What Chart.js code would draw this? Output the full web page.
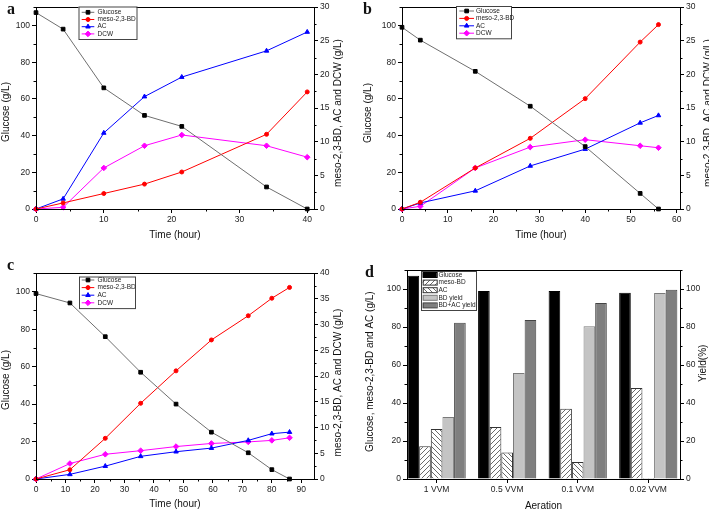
<!DOCTYPE html>
<html lang="en">
<head>
<meta charset="UTF-8">
<title>meso-2,3-BD fermentation</title>
<script src="https://cdn.jsdelivr.net/npm/chart.js"></script>
<style>
  html, body { margin: 0; padding: 0; background: #fff; overflow: hidden; }
  body { width: 709px; height: 510px; position: relative; }
  canvas { position: absolute; }
  .tag { position: absolute; font: bold 16px "Liberation Serif", "DejaVu Serif", serif; line-height: 16px; color: #111; }
</style>
</head>
<body>
<canvas id="chartA" width="355" height="250" style="left:0;top:0"></canvas>
<canvas id="chartB" width="354" height="250" style="left:355px;top:0"></canvas>
<canvas id="chartC" width="355" height="250" style="left:0;top:260px"></canvas>
<canvas id="chartD" width="354" height="252" style="left:355px;top:260px"></canvas>
<div class="tag" style="left:7px;top:1px">a</div>
<div class="tag" style="left:363px;top:1px">b</div>
<div class="tag" style="left:7px;top:257px">c</div>
<div class="tag" style="left:365px;top:264px">d</div>

<script>
  const seriesNames = ['Glucose', 'meso-2,3-BD', 'AC', 'DCW'];

  // a - 1 vvm
  const timeA = [0, 4, 10, 16, 21.5, 34, 40];
  const glucoseA = [107, 98, 66, 51, 45, 12, 0];
  const mesoA = [0, 0.9, 2.3, 3.7, 5.5, 11.1, 17.4];
  const acA = [0, 1.5, 11.3, 16.7, 19.6, 23.5, 26.3];
  const dcwA = [0, 0.25, 6.1, 9.4, 11.0, 9.4, 7.7];

  // b - 0.5 vvm
  const timeB = [0, 4, 16, 28, 40, 52, 56];
  const glucoseB = [99, 92, 75, 56, 34, 8.5, 0];
  const mesoB = [0, 1.0, 6.1, 10.5, 16.4, 24.8, 27.4];
  const acB = [0, 0.9, 2.7, 6.4, 8.9, 12.8, 13.9];
  const dcwB = [0, 0.4, 6.1, 9.2, 10.3, 9.4, 9.1];

  // c - 0.1 vvm
  const timeC = [0, 11.5, 23.5, 35.5, 47.5, 59.5, 72, 80, 86];
  const glucoseC = [99, 94, 76, 57, 40, 25, 14, 5, 0];
  const mesoC = [0, 1.8, 7.9, 14.7, 21.0, 27.0, 31.7, 35.1, 37.2];
  const acC = [0, 0.9, 2.5, 4.4, 5.3, 6.0, 7.5, 8.8, 9.1];
  const dcwC = [0, 3.0, 4.8, 5.5, 6.3, 6.9, 7.2, 7.5, 8.0];

  // d - summary
  const aeration = ['1 VVM', '0.5 VVM', '0.1 VVM', '0.02 VVM'];
  const barNames = ['Glucose', 'meso-BD', 'AC', 'BD yield', 'BD+AC yield'];
  const glucoseD = [107, 99, 99, 98];
  const mesoD = [17.3, 27.4, 37, 47.9];
  const acD = [26.3, 13.9, 8.9, 0.5];
  const bdYield = [32.6, 55.8, 80.4, 97.9];
  const bdAcYield = [82.3, 83.7, 92.6, 99.6];

  const FONT = '"Liberation Sans", Arial, sans-serif';
  Chart.defaults.font.family = FONT;
  Chart.defaults.color = '#222';
  Chart.defaults.animation = false;
  Chart.defaults.plugins.legend.display = false;
  Chart.defaults.plugins.tooltip.enabled = false;

  const frame = {
    id: 'frame',
    afterDraw(chart) {
      const { ctx, chartArea: a } = chart;
      ctx.save();
      ctx.strokeStyle = '#000';
      ctx.lineWidth = 1;
      ctx.strokeRect(Math.round(a.left) + 0.5, Math.round(a.top) + 0.5,
        Math.round(a.right - a.left), Math.round(a.bottom - a.top));
      ctx.restore();
    }
  };

  const minorTicks = {
    id: 'minorTicks',
    afterDraw(chart, args, opts) {
      const steps = opts.steps || {};
      const { ctx, chartArea: a } = chart;
      ctx.save();
      ctx.strokeStyle = '#000';
      ctx.lineWidth = 1;
      ctx.beginPath();
      Object.keys(steps).forEach(id => {
        const s = chart.scales[id];
        const step = steps[id];
        const majors = s.ticks.map(t => t.value);
        for (let k = 0; k * step <= s.max + 1e-9; k++) {
          const v = k * step;
          if (majors.some(m => Math.abs(m - v) < 1e-6)) continue;
          const p = Math.round(s.getPixelForValue(v)) + 0.5;
          if (s.position === 'bottom') { ctx.moveTo(p, a.bottom); ctx.lineTo(p, a.bottom + 2.5); }
          else if (s.position === 'left') { ctx.moveTo(a.left, p); ctx.lineTo(a.left - 2.5, p); }
          else { ctx.moveTo(a.right, p); ctx.lineTo(a.right + 2.5, p); }
        }
      });
      ctx.stroke();
      ctx.restore();
    }
  };

  // vertical axis titles, both reading bottom to top
  const sideTitles = {
    id: 'sideTitles',
    afterDraw(chart, args, opts) {
      const items = opts.items || [];
      const ctx = chart.ctx;
      ctx.save();
      ctx.font = '10px ' + FONT;
      ctx.fillStyle = '#111';
      ctx.textAlign = 'center';
      ctx.textBaseline = 'middle';
      for (let i = 0; i < items.length; i++) {
        const t = items[i];
        ctx.save();
        ctx.translate(t.x, t.y);
        ctx.rotate(-Math.PI / 2);
        ctx.fillText(t.text, 0, 0);
        ctx.restore();
      }
      ctx.restore();
    }
  };

  const boxLegend = {
    id: 'boxLegend',
    afterDraw(chart, args, o) {
      if (!o.box) return;
      const ctx = chart.ctx;
      const b = o.box;
      ctx.save();
      ctx.fillStyle = '#fff';
      ctx.fillRect(b[0], b[1], b[2], b[3]);
      ctx.strokeStyle = '#444';
      ctx.lineWidth = 1;
      ctx.strokeRect(b[0] + 0.5, b[1] + 0.5, b[2], b[3]);
      ctx.font = '6.5px ' + FONT;
      ctx.textBaseline = 'middle';
      ctx.textAlign = 'left';
      chart.data.datasets.forEach((ds, i) => {
        const y = o.rowY + i * o.rowStep;
        if (o.bars) {
          ctx.fillStyle = ds.backgroundColor;
          ctx.fillRect(o.x0, y - 2.5, o.x1 - o.x0, 5);
          ctx.strokeStyle = ds.borderColor;
          ctx.strokeRect(o.x0 + 0.5, y - 2.5, o.x1 - o.x0, 5);
        } else {
          ctx.strokeStyle = ds.borderColor;
          ctx.beginPath();
          ctx.moveTo(o.x0, y);
          ctx.lineTo(o.x1, y);
          ctx.stroke();
          ctx.fillStyle = ds.pointBackgroundColor;
          ctx.strokeStyle = ds.pointBackgroundColor;
          Chart.helpers.drawPoint(ctx, { pointStyle: ds.pointStyle, radius: ds.pointRadius, rotation: 0, borderWidth: 1 }, (o.x0 + o.x1) / 2, y);
        }
        ctx.fillStyle = '#222';
        ctx.fillText(ds.label, o.tx, y);
      });
      ctx.restore();
    }
  };

  Chart.register(frame, minorTicks, sideTitles, boxLegend);

  function axis(pos, min, max, step, size, extra) {
    const horiz = pos === 'bottom';
    return Object.assign({
      type: 'linear',
      position: pos,
      min: min,
      max: max,
      border: { display: false },
      grid: { drawOnChartArea: false, color: '#000', tickLength: 4 },
      ticks: { stepSize: step, includeBounds: false, padding: 2, color: '#222', font: { size: 8.5 } },
      afterFit(s) { if (horiz) s.height = size; else s.width = size; }
    }, extra || {});
  }

  function pts(xs, ys) { return ys.map((y, i) => ({ x: xs[i], y: y })); }

  const lineLooks = [
    { line: '#6f6f6f', point: '#000', style: 'rect', r: 2.6, axis: 'y' },
    { line: '#ff0000', point: '#ff0000', style: 'circle', r: 2, axis: 'y2' },
    { line: '#0000ff', point: '#0000ff', style: 'triangle', r: 2.6, axis: 'y2' },
    { line: '#ff00ff', point: '#ff00ff', style: 'rectRot', r: 2.8, axis: 'y2' }
  ];

  function timeChart(id, t, series, c) {
    return new Chart(id, {
      type: 'line',
      data: {
        datasets: series.map((s, i) => ({
          label: seriesNames[i],
          data: pts(t, s),
          yAxisID: lineLooks[i].axis,
          borderColor: lineLooks[i].line,
          borderWidth: 1,
          pointStyle: lineLooks[i].style,
          pointRadius: lineLooks[i].r,
          pointBackgroundColor: lineLooks[i].point,
          pointBorderColor: lineLooks[i].point,
          pointBorderWidth: 1,
          tension: 0,
          clip: 4
        }))
      },
      options: {
        responsive: false,
        layout: { padding: c.pad },
        scales: {
          x: axis('bottom', 0, c.xMax, 10, c.xH, {
            title: { display: true, text: 'Time (hour)', padding: 0, color: '#111', font: { size: 10 } }
          }),
          y: axis('left', 0, 110, 20, c.yW),
          y2: axis('right', 0, c.y2Max, 5, c.y2W)
        },
        plugins: {
          minorTicks: { steps: { x: 5, y: 10, y2: 2.5 } },
          sideTitles: { items: [
            { text: 'Glucose (g/L)', x: c.lt[0], y: c.lt[1] },
            { text: 'meso-2,3-BD, AC and DCW (g/L)', x: c.rt[0], y: c.rt[1] }
          ] },
          boxLegend: c.legend
        }
      }
    });
  }

  timeChart('chartA', timeA, [glucoseA, mesoA, acA, dcwA], {
    xMax: 41, y2Max: 30, xH: 32, yW: 36, y2W: 41,
    pad: { left: 0, right: 0, top: 3, bottom: 9 },
    lt: [6, 112], rt: [338, 113],
    legend: { box: [78.5, 6.5, 58, 32.5], rowY: 12.3, rowStep: 7.2, x0: 81.7, x1: 94.3, tx: 97.5 }
  });

  timeChart('chartB', timeB, [glucoseB, mesoB, acB, dcwB], {
    xMax: 60.7, y2Max: 30, xH: 32, yW: 47, y2W: 29,
    pad: { left: 0, right: 0, top: 3, bottom: 9 },
    lt: [13.3, 113], rt: [353, 113],
    legend: { box: [101, 6, 55, 32.3], rowY: 11, rowStep: 7.4, x0: 104.3, x1: 119, tx: 121 }
  });

  timeChart('chartC', timeC, [glucoseC, mesoC, acC, dcwC], {
    xMax: 94.3, y2Max: 40, xH: 31, yW: 36, y2W: 41,
    pad: { left: 0, right: 0, top: 13, bottom: 0 },
    lt: [6, 120], rt: [338, 122.5],
    legend: { box: [79, 16.5, 56, 31.6], rowY: 20, rowStep: 7.6, x0: 81.7, x1: 94.3, tx: 97.5 }
  });

  function hatch(dir) {
    const c = document.createElement('canvas');
    c.width = c.height = 5;
    const g = c.getContext('2d');
    g.fillStyle = '#fff';
    g.fillRect(0, 0, 5, 5);
    g.strokeStyle = '#444';
    g.lineWidth = 0.8;
    g.beginPath();
    if (dir === '/') { g.moveTo(-1, 6); g.lineTo(6, -1); }
    else { g.moveTo(-1, -1); g.lineTo(6, 6); }
    g.stroke();
    return g.createPattern(c, 'repeat');
  }

  const barLooks = [
    { fill: '#000', edge: '#000', axis: 'y' },
    { fill: hatch('/'), edge: '#333', axis: 'y' },
    { fill: hatch('\\'), edge: '#333', axis: 'y' },
    { fill: '#c4c4c4', edge: '#7a7a7a', axis: 'y2' },
    { fill: '#7f7f7f', edge: '#444', axis: 'y2' }
  ];
  const idx = aeration.map((_, i) => i);

  new Chart('chartD', {
    type: 'bar',
    data: {
      datasets: [glucoseD, mesoD, acD, bdYield, bdAcYield].map((s, i) => ({
        label: barNames[i],
        data: pts(idx, s),
        yAxisID: barLooks[i].axis,
        backgroundColor: barLooks[i].fill,
        borderColor: barLooks[i].edge,
        borderWidth: 1,
        barPercentage: 1,
        categoryPercentage: 0.825
      }))
    },
    options: {
      responsive: false,
      layout: { padding: { left: 0, right: 0, top: 10, bottom: 0 } },
      scales: {
        x: axis('bottom', -0.42, 3.45, 1, 33, {
          offset: false,
          grid: { drawOnChartArea: false, color: '#000', tickLength: 4, offset: false },
          afterBuildTicks(s) { s.ticks = idx.map(i => ({ value: i })); },
          ticks: { padding: 2, color: '#222', font: { size: 8.5 }, callback: v => aeration[v] },
          title: { display: true, text: 'Aeration', padding: 0, color: '#111', font: { size: 10 } }
        }),
        y: axis('left', 0, 110, 20, 52),
        y2: axis('right', 0, 110, 20, 29)
      },
      plugins: {
        minorTicks: { steps: { y: 10, y2: 10 } },
        sideTitles: { items: [
          { text: 'Glucose, meso-2,3-BD and AC (g/L)', x: 15, y: 111.7 },
          { text: 'Yield(%)', x: 348, y: 103.3 }
        ] },
        boxLegend: { bars: true, box: [66, 11, 55, 39], rowY: 15, rowStep: 7.6, x0: 67.7, x1: 81.7, tx: 83.5 }
      }
    }
  });
</script>
</body>
</html>
